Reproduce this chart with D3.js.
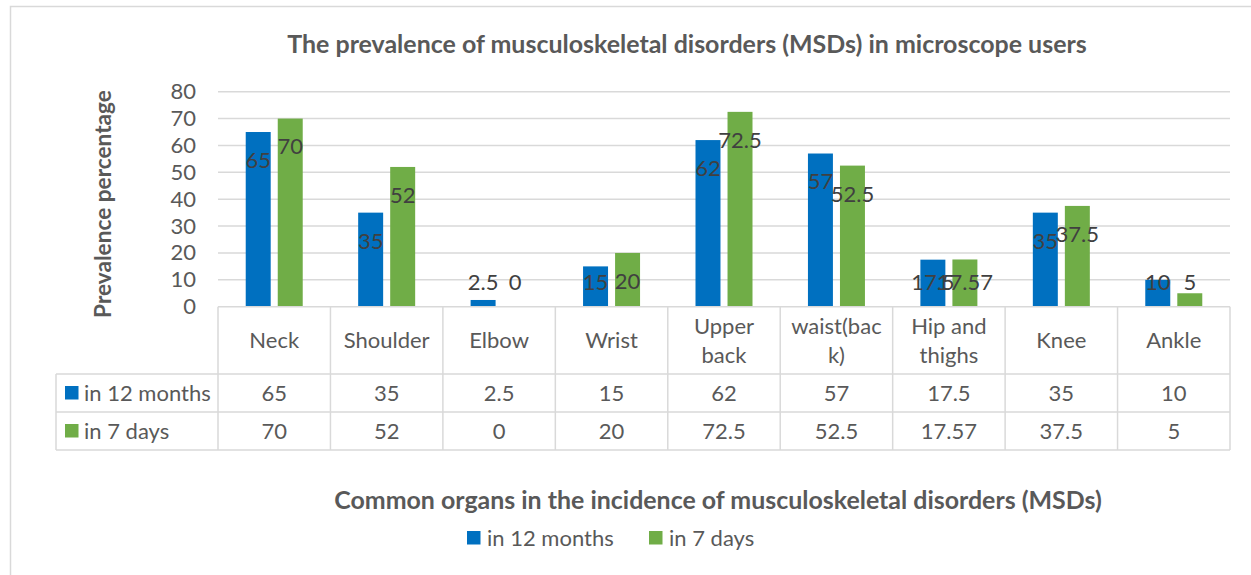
<!DOCTYPE html>
<html>
<head>
<meta charset="utf-8">
<script src="https://cdn.jsdelivr.net/npm/d3@7"></script>
<style>
  body { margin: 0; background: #fff; }
  text { font-family: Lato, "Open Sans", sans-serif; }
</style>
</head>
<body>
<div id="viz"></div>
<script>
// chart data
var categories = ["Neck", "Shoulder", "Elbow", "Wrist", "Upper\nback",
                  "waist(bac\nk)", "Hip and\nthighs", "Knee", "Ankle"];
var seriesNames = ["in 12 months", "in 7 days"];
var months12 = [65, 35, 2.5, 15, 62, 57, 17.5, 35, 10];
var days7 = [70, 52, 0, 20, 72.5, 52.5, 17.57, 37.5, 5];
var days7Text = ["70", "52", "0", "20", "72.5", "52.5", "17.57", "37.5", "5"];
var yTicks = [0, 10, 20, 30, 40, 50, 60, 70, 80];
var colors = ["#0070C0", "#70AD47"];

var W = 1251, H = 575;
var plot = {left: 218, right: 1230, top: 91.7, bottom: 306.7};
var rows = {head: 374, r1: 412, r2: 450, labelLeft: 56};
var gridColor = "#d9d9d9", textColor = "#595959";

var svg = d3.select("#viz").append("svg")
    .attr("width", W)
    .attr("height", H);

// chart border
svg.append("rect")
    .attr("x", 10.5).attr("y", 6.5)
    .attr("width", 1300).attr("height", 700)
    .attr("fill", "#fff")
    .attr("stroke", gridColor)
    .attr("stroke-width", 1.5);

var y = d3.scaleLinear().domain([0, 80]).range([plot.bottom, plot.top]);
var x0 = d3.scaleBand().domain(d3.range(categories.length))
    .range([plot.left, plot.right]);
var bw = x0.bandwidth();
var x1 = d3.scaleBand().domain([0, 1])
    .range([bw / 2 - 28.5, bw / 2 + 28.5])
    .paddingInner(0.22);

// gridlines
svg.append("g").selectAll("line")
    .data(yTicks.slice(1))
    .enter().append("line")
    .attr("x1", plot.left).attr("x2", plot.right)
    .attr("y1", function(d){ return y(d); })
    .attr("y2", function(d){ return y(d); })
    .attr("stroke", gridColor)
    .attr("stroke-width", 1.5);

// y axis labels
var yAxis = svg.append("g")
    .attr("transform", "translate(" + plot.left + ",0)")
    .call(d3.axisLeft(y).tickValues(yTicks).tickSize(0).tickPadding(22));
yAxis.select(".domain").remove();
yAxis.selectAll("text")
    .attr("font-size", 22)
    .attr("fill", textColor)
    .style("font-family", "Lato, 'Open Sans', sans-serif");

// bars
var data = [months12, days7];
var groups = svg.append("g").selectAll("g")
    .data(categories)
    .enter().append("g")
    .attr("transform", function(d, i){ return "translate(" + x0(i) + ",0)"; });

groups.selectAll("rect")
    .data(function(d, i){ return [0, 1].map(function(s){ return {s: s, v: data[s][i]}; }); })
    .enter().append("rect")
    .attr("x", function(d){ return x1(d.s); })
    .attr("width", x1.bandwidth())
    .attr("y", function(d){ return y(d.v); })
    .attr("height", function(d){ return plot.bottom - y(d.v); })
    .attr("fill", function(d){ return colors[d.s]; });

// data labels (inside end, pushed up when the bar is too short)
groups.selectAll("text.lbl")
    .data(function(d, i){
        return [{s: 0, v: months12[i], t: String(months12[i])},
                {s: 1, v: days7[i], t: days7Text[i]}];
    })
    .enter().append("text")
    .attr("class", "lbl")
    .attr("x", function(d){ return x1(d.s) + x1.bandwidth() / 2; })
    .attr("y", function(d){ return Math.min(y(d.v) + 28, plot.bottom - 24.5); })
    .attr("dy", "0.36em")
    .attr("text-anchor", "middle")
    .attr("font-size", 22)
    .attr("fill", "#404040")
    .text(function(d){ return d.t; });

// data table
var table = svg.append("g")
    .attr("stroke", gridColor)
    .attr("stroke-width", 1.5);
table.append("line")
    .attr("x1", plot.left).attr("x2", plot.right)
    .attr("y1", plot.bottom).attr("y2", plot.bottom);
[rows.head, rows.r1, rows.r2].forEach(function(yy){
    table.append("line")
        .attr("x1", rows.labelLeft).attr("x2", plot.right)
        .attr("y1", yy).attr("y2", yy);
});
table.append("line")
    .attr("x1", rows.labelLeft).attr("x2", rows.labelLeft)
    .attr("y1", rows.head).attr("y2", rows.r2);
d3.range(categories.length + 1).forEach(function(i){
    var xx = plot.left + i * bw;
    table.append("line")
        .attr("x1", xx).attr("x2", xx)
        .attr("y1", plot.bottom).attr("y2", rows.r2);
});

// header cells
groups.append("text")
    .attr("text-anchor", "middle")
    .attr("font-size", 22)
    .attr("fill", textColor)
    .each(function(d){
        var lines = d.split("\n");
        var mid = (plot.bottom + rows.head) / 2;
        var start = mid - (lines.length - 1) * 28.5 / 2;
        var t = d3.select(this);
        lines.forEach(function(l, k){
            t.append("tspan")
                .attr("x", bw / 2)
                .attr("y", start + k * 28.5)
                .attr("dy", "0.36em")
                .text(l);
        });
    });

// value cells
var rowMid = [(rows.head + rows.r1) / 2, (rows.r1 + rows.r2) / 2];
groups.each(function(d, i){
    var g = d3.select(this);
    [String(months12[i]), days7Text[i]].forEach(function(v, r){
        g.append("text")
            .attr("x", bw / 2)
            .attr("y", rowMid[r])
            .attr("dy", "0.36em")
            .attr("text-anchor", "middle")
            .attr("font-size", 22)
            .attr("fill", textColor)
            .text(v);
    });
});

// row labels with legend keys
seriesNames.forEach(function(name, r){
    svg.append("rect")
        .attr("x", 65).attr("y", rowMid[r] - 7)
        .attr("width", 13.5).attr("height", 13.5)
        .attr("fill", colors[r]);
    svg.append("text")
        .attr("x", 84).attr("y", rowMid[r])
        .attr("dy", "0.36em")
        .attr("font-size", 22)
        .attr("fill", textColor)
        .text(name);
});

// make a text fit a measured width
function fitWidth(sel, w) {
    var len = sel.node().getComputedTextLength();
    var fs = parseFloat(sel.attr("font-size"));
    sel.attr("font-size", fs * w / len);
}

// titles
var title = svg.append("text")
    .attr("x", 687).attr("y", 53)
    .attr("text-anchor", "middle")
    .attr("font-size", 24)
    .attr("font-weight", "bold")
    .attr("fill", textColor)
    .text("The prevalence of musculoskeletal disorders (MSDs) in microscope users");
fitWidth(title, 800);

var yTitle = svg.append("text")
    .attr("transform", "translate(111,204) rotate(-90)")
    .attr("text-anchor", "middle")
    .attr("font-size", 24)
    .attr("font-weight", "bold")
    .attr("fill", textColor)
    .text("Prevalence percentage");
fitWidth(yTitle, 228);

var xTitle = svg.append("text")
    .attr("x", 718).attr("y", 509)
    .attr("text-anchor", "middle")
    .attr("font-size", 24)
    .attr("font-weight", "bold")
    .attr("fill", textColor)
    .text("Common organs in the incidence of musculoskeletal disorders (MSDs)");
fitWidth(xTitle, 768);

// legend
var legendX = [467, 649];
seriesNames.forEach(function(name, r){
    svg.append("rect")
        .attr("x", legendX[r]).attr("y", 531)
        .attr("width", 13.5).attr("height", 13.5)
        .attr("fill", colors[r]);
    svg.append("text")
        .attr("x", legendX[r] + 20).attr("y", 538)
        .attr("dy", "0.36em")
        .attr("font-size", 22)
        .attr("fill", textColor)
        .text(name);
});
</script>
</body>
</html>
